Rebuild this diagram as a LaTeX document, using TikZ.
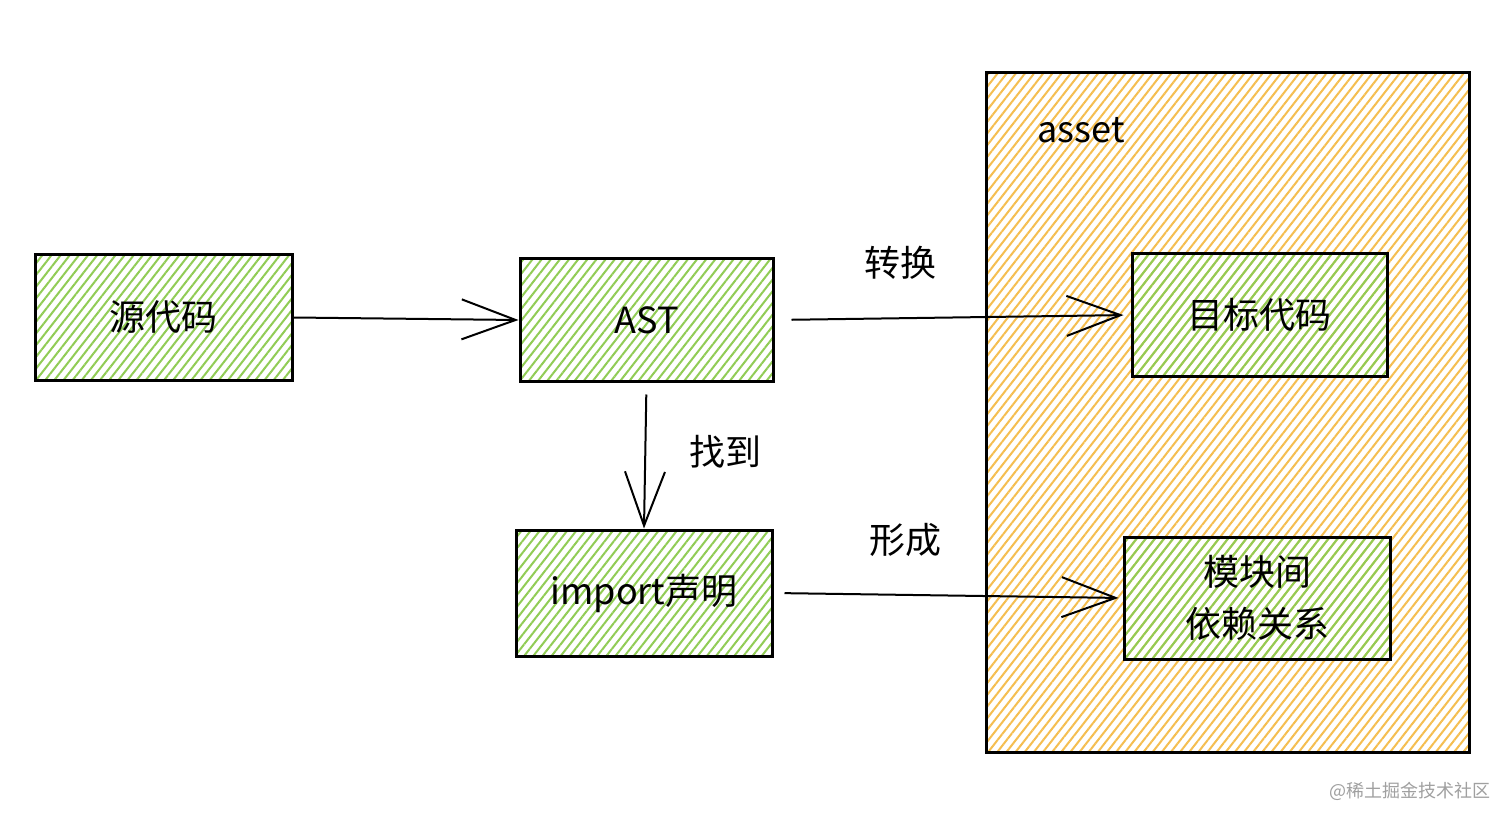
\documentclass[tikz,border=0pt]{standalone}
\usepackage{fontspec}
\setmainfont{Noto Sans CJK SC}
\usetikzlibrary{arrows.meta,patterns.meta}
\definecolor{hgreen}{RGB}{145,204,85}
\definecolor{horange}{RGB}{245,190,80}
\definecolor{wmgray}{RGB}{160,160,160}
\tikzset{
  box/.style={draw=black, line width=1.5pt, rectangle, inner sep=0pt,
    pattern={Lines[angle=52,distance=3.6pt,line width=1pt]}, pattern color=hgreen,
    font=\fontsize{18}{26}\selectfont, align=center},
  bigbox/.style={draw=black, line width=1.5pt, rectangle, inner sep=0pt,
    pattern={Lines[angle=52,distance=3.6pt,line width=1pt]}, pattern color=horange},
  lbl/.style={font=\fontsize{18}{22}\selectfont, inner sep=0pt},
  conn/.style={line width=1pt, -{Straight Barb[length=27pt,width=20pt,line width=1pt]}}
}
\begin{document}
\begin{tikzpicture}[x=0.5pt,y=-0.5pt]
\useasboundingbox[fill=white] (0,0) rectangle (1512,824);
\node[bigbox, minimum width=241.5pt, minimum height=339.5pt] (asset) at (1227.5,412.5) {};
\node[lbl] (assetlbl) at (1081,130) {asset};
\node[box, minimum width=128.5pt, minimum height=62.5pt] (src) at (163.5,317.5) {源代码};
\node[box, minimum width=126.5pt, minimum height=61pt] (ast) at (646.5,320) {AST};
\node[box, minimum width=128pt, minimum height=63pt] (imp) at (644,593) {import声明};
\node[box, minimum width=127.5pt, minimum height=61pt] (tgt) at (1259.5,315) {目标代码};
\node[box, minimum width=133pt, minimum height=61pt] (dep) at (1257,598) {模块间\\依赖关系};
\node[lbl] (l1) at (900,263) {转换};
\node[lbl] (l2) at (725,452) {找到};
\node[lbl] (l3) at (905,540) {形成};
\node[font=\fontsize{9}{11}\selectfont, text=wmgray, inner sep=0pt] (wm) at (1410,791) {@稀土掘金技术社区};
\draw[conn] (src.east) -- (ast.west);
\draw[conn, shorten <=8.5pt, shorten >=3.5pt] (ast.east) -- (tgt.west);
\draw[conn, shorten <=6pt] (ast.south) -- (imp.north);
\draw[conn, shorten <=5.5pt, shorten >=2pt] (imp.east) -- (dep.west);
\end{tikzpicture}
\end{document}
